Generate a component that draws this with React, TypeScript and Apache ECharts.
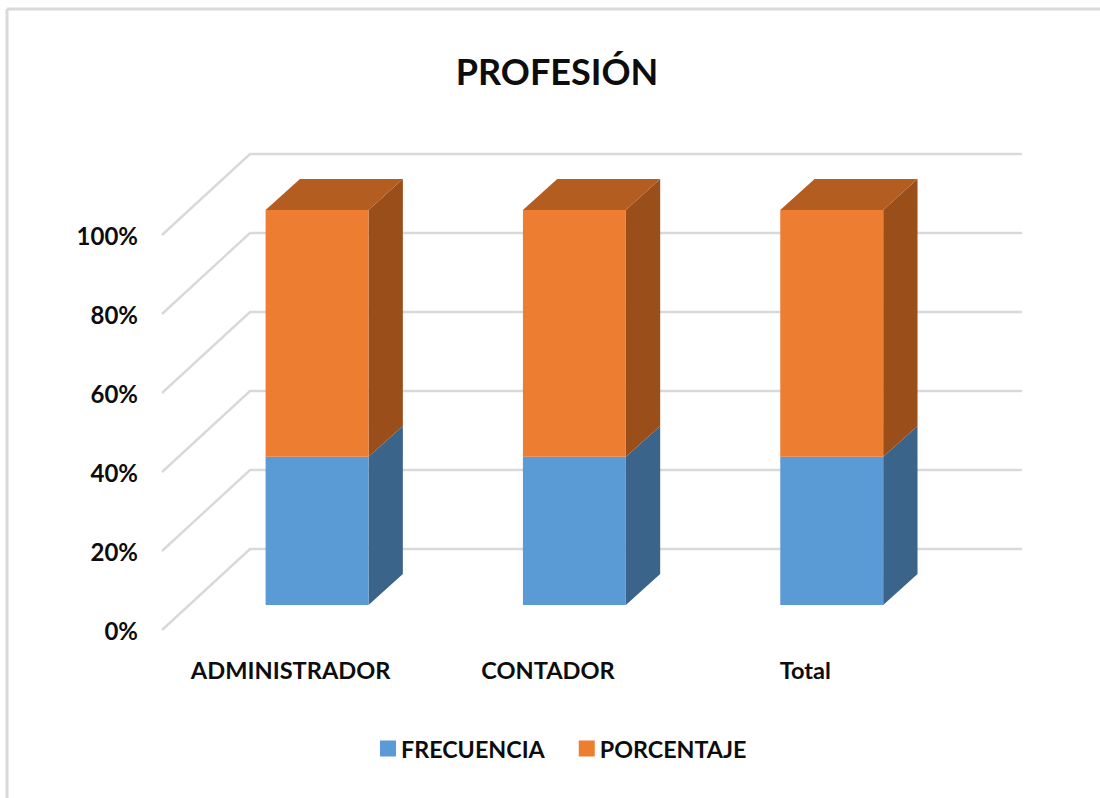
import React, { useEffect, useRef } from "react";
import * as echarts from "echarts";

const TITLE = "PROFESIÓN";
const categories = ["ADMINISTRADOR", "CONTADOR", "Total"];
const frecuencia = [37.5, 37.5, 37.5];
const porcentaje = [62.5, 62.5, 62.5];
const ticks = [0, 20, 40, 60, 80, 100];

const FONT = "Lato";
const WALL = { dx: 88, dy: -81 };
const NEAR_X = 0.3;
const NEAR_Y = 0.31;
const FAR = 0.69;
const BAR_RATIO = 0.4;

const blue = { front: "#5B9BD5", side: "#3A648A", top: "#47799F" };
const orange = { front: "#ED7D31", side: "#9A4F1B", top: "#B45D21" };

const makeBar = (colors: typeof blue, drawTop: boolean) => (params: any, api: any) => {
  const cat = api.value(0);
  const lo = api.coord([cat, api.value(1)]);
  const hi = api.coord([cat, api.value(2)]);
  const w = api.size([1, 0])[0] * BAR_RATIO;
  const nx = WALL.dx * NEAR_X;
  const ny = WALL.dy * NEAR_Y;
  const ddx = WALL.dx * (FAR - NEAR_X);
  const ddy = WALL.dy * (FAR - NEAR_Y);
  const l = lo[0] + nx - w / 2;
  const r = l + w;
  const b = lo[1] + ny;
  const t = hi[1] + ny;
  const children: any[] = [
    {
      type: "polygon",
      shape: { points: [[r, b], [r + ddx, b + ddy], [r + ddx, t + ddy], [r, t]] },
      style: { fill: colors.side },
    },
    {
      type: "polygon",
      shape: { points: [[l, b], [r, b], [r, t], [l, t]] },
      style: { fill: colors.front },
    },
  ];
  if (drawTop) {
    children.push({
      type: "polygon",
      shape: { points: [[l, t], [r, t], [r + ddx, t + ddy], [l + ddx, t + ddy]] },
      style: { fill: colors.top },
    });
  }
  return { type: "group", children };
};

const renderWall = (params: any, api: any) => {
  const y = api.coord([0, api.value(0)])[1];
  const sys = params.coordSys;
  return {
    type: "polyline",
    shape: {
      points: [
        [sys.x, y],
        [sys.x + WALL.dx, y + WALL.dy],
        [sys.x + sys.width + WALL.dx, y + WALL.dy],
      ],
    },
    style: { stroke: "#D9D9D9", lineWidth: 2.4, fill: "none" },
  };
};

export default function App() {
  const ref = useRef<HTMLDivElement>(null);
  useEffect(() => {
    document.body.style.margin = "0";
    const chart = echarts.init(ref.current!, undefined, { renderer: "svg" });
    chart.setOption({
      animation: false,
      backgroundColor: "#FFFFFF",
      title: {
        text: TITLE,
        left: 552,
        top: 48,
        textAlign: "center",
        textStyle: { fontFamily: FONT, fontWeight: "bold", fontSize: 36, color: "#0D0D0D" },
      },
      legend: {
        data: ["FRECUENCIA", "PORCENTAJE"],
        left: 375,
        top: 732,
        icon: "rect",
        itemWidth: 16,
        itemHeight: 16,
        itemGap: 34,
        textStyle: { fontFamily: FONT, fontWeight: "bold", fontSize: 23.3, color: "#0D0D0D" },
      },
      grid: { left: 162, top: 235, width: 772, height: 395 },
      xAxis: {
        type: "category",
        data: categories,
        axisLine: { show: false },
        axisTick: { show: false },
        axisLabel: { interval: 0, margin: 28, fontFamily: FONT, fontWeight: "bold", fontSize: 23.6, color: "#0D0D0D" },
      },
      yAxis: {
        type: "value",
        min: 0,
        max: 100,
        interval: 20,
        axisLine: { show: false },
        axisTick: { show: false },
        splitLine: { show: false },
        axisLabel: { margin: 24, formatter: "{value}%", fontFamily: FONT, fontWeight: "bold", fontSize: 24, color: "#0D0D0D" },
      },
      graphic: [
        { type: "line", shape: { x1: 7, y1: 9, x2: 1100, y2: 9 }, style: { stroke: "#D9D9D9", lineWidth: 3 } },
        { type: "line", shape: { x1: 7, y1: 9, x2: 7, y2: 798 }, style: { stroke: "#D9D9D9", lineWidth: 3 } },
      ],
      series: [
        {
          name: "walls",
          type: "custom",
          z: 1,
          silent: true,
          renderItem: renderWall,
          data: ticks.map((t) => [t]),
          encode: { y: 0 },
          clip: false,
        },
        {
          name: "FRECUENCIA",
          type: "custom",
          z: 2,
          itemStyle: { color: blue.front },
          renderItem: makeBar(blue, false),
          data: categories.map((_, i) => [i, 0, frecuencia[i]]),
          encode: { x: 0, y: [1, 2] },
          clip: false,
        },
        {
          name: "PORCENTAJE",
          type: "custom",
          z: 3,
          itemStyle: { color: orange.front },
          renderItem: makeBar(orange, true),
          data: categories.map((_, i) => [i, frecuencia[i], frecuencia[i] + porcentaje[i]]),
          encode: { x: 0, y: [1, 2] },
          clip: false,
        },
      ],
    });
    return () => chart.dispose();
  }, []);
  return <div ref={ref} style={{ position: "fixed", left: 0, top: 0, width: 1100, height: 798 }} />;
}
